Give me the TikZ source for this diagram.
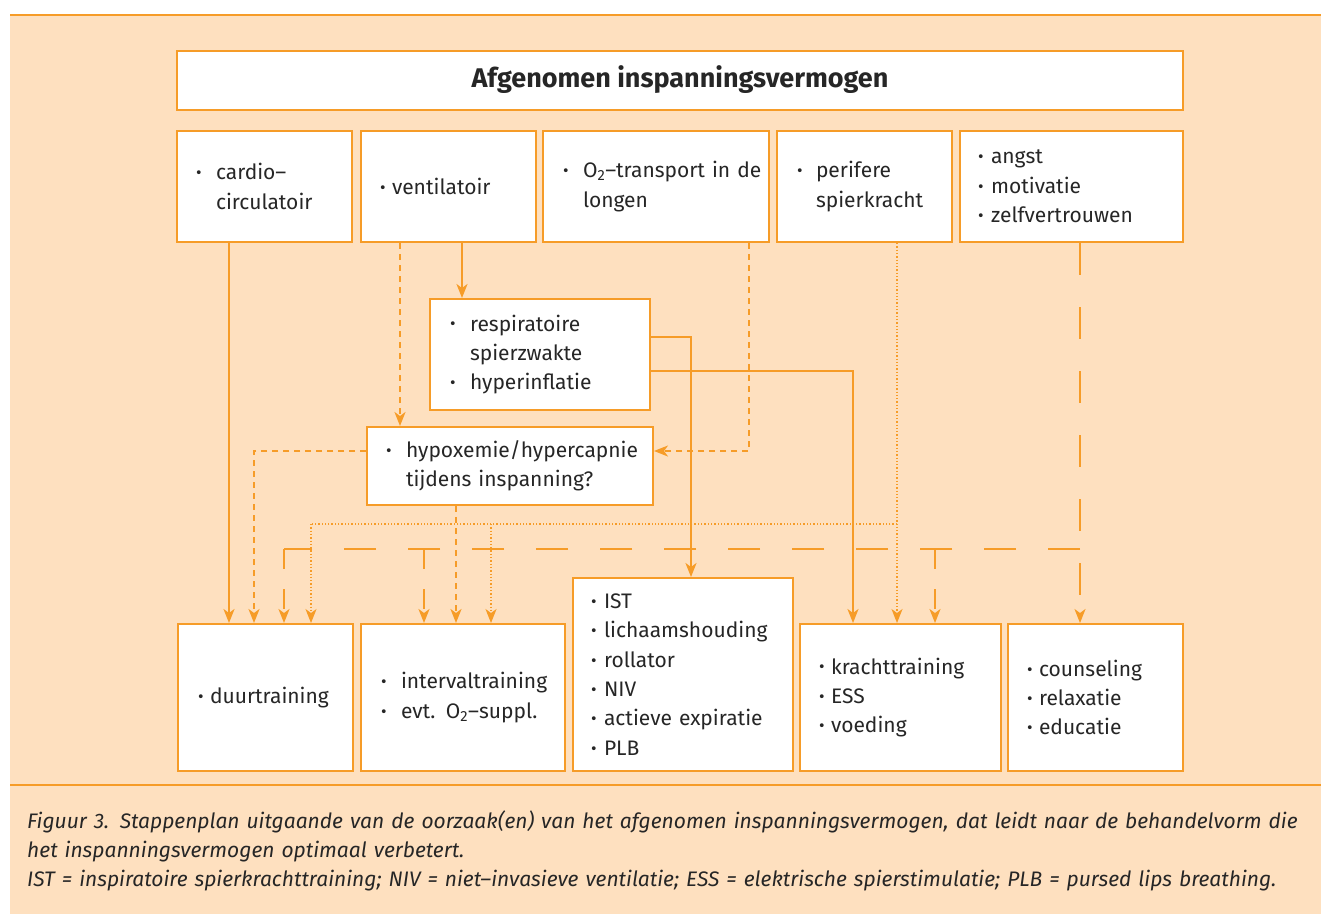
\documentclass[tikz,border=0pt]{standalone}
\usepackage{fontspec}
\setmainfont{Fira Sans}
\usetikzlibrary{arrows.meta}

\definecolor{peach}{RGB}{254,224,191}
\definecolor{lineorange}{RGB}{246,156,40}
\definecolor{inkgray}{RGB}{38,38,38}

\newcommand\bul{\raisebox{1.1pt}{\fontsize{17}{17}\selectfont\textbullet}}
\newcommand\bi[2][20pt]{\mbox{\makebox[#1][l]{\bul}#2}}
\newcommand\bc[2][20pt]{\mbox{\hspace*{#1}#2}}

\begin{document}
\begin{tikzpicture}[x=1pt,y=-1pt,>={Stealth[length=14pt,width=11pt,inset=4pt]}]
\tikzstyle box=[draw=lineorange, fill=white, line width=2pt, inner sep=0pt, align=left, text=inkgray, font=\fontsize{21}{29.4}\selectfont];
\tikzstyle conn=[draw=lineorange, line width=2pt];
\tikzstyle dashconn=[conn, dash pattern=on 6pt off 5pt];
\tikzstyle dotconn=[draw=lineorange, line width=1.3pt, dash pattern=on 1.3pt off 2pt];
\tikzstyle longconn=[conn, dash pattern=on 32pt off 32pt];
\tikzstyle dropconn=[conn, dash pattern=on 20pt off 20pt];
\useasboundingbox (0,0) rectangle (1321,914);
\fill[peach] (10,15) rectangle (1321,914);
\draw[lineorange, line width=2.5pt] (10,15) -- (1321,15);
\draw[lineorange, line width=2pt] (10,785) -- (1321,785);

\node[box, minimum width=1006, minimum height=59, align=center, font=\fontsize{27}{30}\selectfont\bfseries] (title) at (680,80) {Afgenomen inspanningsvermogen};

\node[box, minimum width=175, minimum height=111, text width=137] (cardio) at (264.5,186.5) {\bi{cardio--}\\\bc{circulatoir}};
\node[box, minimum width=175, minimum height=111, text width=137] (ventil) at (448.5,186.5) {\bi[12pt]{ventilatoir}};
\node[box, minimum width=226, minimum height=111, text width=186] (otwo) at (656,186.5) {\bi{O\textsubscript{2}--transport in de}\\\bc{longen}};
\node[box, minimum width=175, minimum height=111, text width=135] (perif) at (864.5,186.5) {\bi[19pt]{perifere}\\\bc[19pt]{spierkracht}};
\node[box, minimum width=223, minimum height=111, text width=187] (angst) at (1071.5,186.5) {\bi[13pt]{angst}\\\bi[13pt]{motivatie}\\\bi[13pt]{zelfvertrouwen}};

\node[box, minimum width=220, minimum height=111, text width=180] (resp) at (540,354.5) {\bi{respiratoire}\\\bc{spierzwakte}\\\bi{hyperinflatie}};
\node[box, minimum width=286, minimum height=78, text width=248] (hypox) at (510,466) {\bi{hypoxemie/hypercapnie}\\\bc{tijdens inspanning?}};

\node[box, minimum width=175, minimum height=147, text width=135] (duur) at (265.5,697.5) {\bi[12pt]{duurtraining}};
\node[box, minimum width=204, minimum height=147, text width=164] (interval) at (463,697.5) {\bi{intervaltraining}\\\bi{evt. O\textsubscript{2}--suppl.}};
\node[box, minimum width=220, minimum height=193, text width=184] (ist) at (683,674.5) {\bi[13pt]{IST}\\\bi[13pt]{lichaamshouding}\\\bi[13pt]{rollator}\\\bi[13pt]{NIV}\\\bi[13pt]{actieve expiratie}\\\bi[13pt]{PLB}};
\node[box, minimum width=201, minimum height=147, text width=163] (kracht) at (900.5,697.5) {\bi[12pt]{krachttraining}\\\bi[12pt]{ESS}\\\bi[12pt]{voeding}};
\node[box, minimum width=175, minimum height=147, text width=137] (couns) at (1095.5,697.5) {\bi[12pt]{counseling}\\\bi[12pt]{relaxatie}\\\bi[12pt]{educatie}};

\draw[conn,->] (229,0 |- cardio.south) -- (229,0 |- duur.north);
\draw[conn,->] (462,0 |- ventil.south) -- (462,0 |- resp.north);
\draw[dashconn,->] (400,0 |- ventil.south) -- (400,0 |- hypox.north);
\draw[dashconn,->] (749,0 |- otwo.south) -- (749,451) -- (hypox.east |- 0,451);
\draw[dashconn,->] (hypox.west |- 0,451) -| (254,0 |- duur.north);
\draw[dashconn,->] (456,0 |- hypox.south) -- (456,0 |- interval.north);
\draw[conn,->] (resp.east |- 0,337) -| (691,0 |- ist.north);
\draw[conn,->] (resp.east |- 0,371) -| (853,0 |- kracht.north);

\coordinate (dotR) at (897,524);
\coordinate (dotL) at (311,524);
\draw[dotconn,->] (897,0 |- perif.south) -- (897,0 |- kracht.north);
\draw[dotconn] (dotR) -- (dotL);
\draw[dotconn,->] (dotL) -- (311,0 |- duur.north);
\draw[dotconn,->] (491,524) -- (491,0 |- interval.north);

\coordinate (longR) at (1080,549);
\coordinate (longL) at (284,549);
\draw[longconn,->] (1080,0 |- angst.south) -- (1080,0 |- couns.north);
\draw[longconn] (longR) -- (longL);
\draw[dropconn,->] (longL) -- (284,0 |- duur.north);
\draw[dropconn,->] (424,549) -- (424,0 |- interval.north);
\draw[dropconn,->] (935,549) -- (935,0 |- kracht.north);

\node[anchor=north west, inner sep=0pt, text width=1294, align=left, text=inkgray, font=\fontsize{21}{29}\selectfont\itshape] (caption) at (27,810) {Figuur 3. Stappenplan uitgaande van de oorzaak(en) van het afgenomen inspanningsvermogen, dat leidt naar de behandelvorm die\\het inspanningsvermogen optimaal verbetert.\\IST = inspiratoire spierkrachttraining; NIV = niet--invasieve ventilatie; ESS = elektrische spierstimulatie; PLB = pursed lips breathing.};
\end{tikzpicture}
\end{document}
